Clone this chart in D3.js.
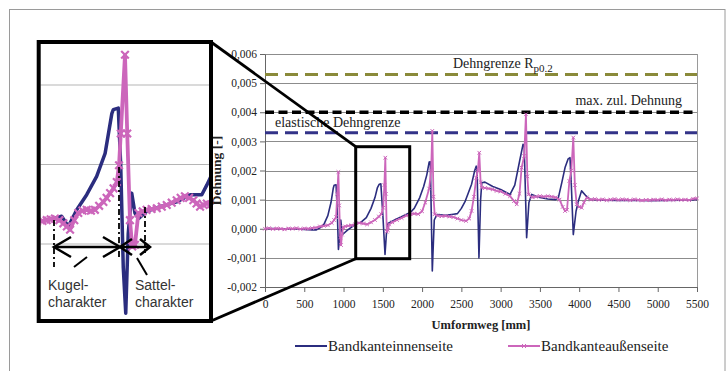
<!DOCTYPE html>
<html lang="de">
<head>
<meta charset="utf-8">
<title>Dehnung ueber Umformweg</title>
<script src="https://d3js.org/d3.v7.min.js"></script>
<style>
  body { margin: 0; background: #fff; }
  .serif { font-family: "Liberation Serif", "Times New Roman", serif; }
  .sans { font-family: "Liberation Sans", Arial, sans-serif; }
</style>
</head>
<body>
<script>
// Bandkanteinnenseite  [Umformweg mm, Dehnung]
var innen = [
  [0, 0.00000], [100, 0.00001], [200, -0.00001], [300, 0.00000], [400, -0.00001],
  [500, -0.00002], [600, -0.00004], [650, -0.00004], [700, 0.00003], [750, 0.00015],
  [800, 0.00045], [840, 0.00090], [870, 0.00140], [880, 0.00149], [905, 0.00151],
  [920, 0.00060], [935, -0.00071], [950, -0.00030], [965, 0.00030], [980, -0.00010],
  [995, -0.00018], [1050, -0.00005], [1120, 0.00009], [1170, 0.00018], [1220, 0.00022],
  [1290, 0.00038], [1350, 0.00070], [1400, 0.00107], [1430, 0.00140], [1455, 0.00153],
  [1475, 0.00154], [1500, 0.00050], [1528, -0.00088], [1545, -0.00020], [1565, 0.00018],
  [1650, 0.00030], [1750, 0.00043], [1850, 0.00056], [1900, 0.00070], [1970, 0.00107],
  [2020, 0.00145], [2060, 0.00185], [2090, 0.00229], [2105, 0.00230], [2130, -0.00145],
  [2155, 0.00030], [2190, 0.00049], [2300, 0.00046], [2400, 0.00050], [2450, 0.00052],
  [2500, 0.00070], [2550, 0.00095], [2630, 0.00153], [2670, 0.00200], [2690, 0.00215],
  [2700, 0.00200], [2724, -0.00100], [2745, 0.00100], [2760, 0.00158], [2800, 0.00160],
  [2900, 0.00145], [3000, 0.00135], [3120, 0.00118], [3180, 0.00150], [3240, 0.00230],
  [3285, 0.00290], [3300, 0.00285], [3331, -0.00031], [3360, 0.00090], [3395, 0.00118],
  [3450, 0.00112], [3500, 0.00107], [3600, 0.00102], [3700, 0.00100], [3735, 0.00107],
  [3780, 0.00160], [3820, 0.00210], [3860, 0.00240], [3883, 0.00244], [3900, 0.00150],
  [3925, -0.00020], [3960, 0.00060], [3990, 0.00095], [4030, 0.00130], [4080, 0.00115],
  [4140, 0.00101], [4300, 0.00098], [4500, 0.00097], [4700, 0.00098], [4900, 0.00096],
  [5100, 0.00097], [5300, 0.00098], [5500, 0.00100]
];

// Bandkanteaussenseite
var aussen = [
  [0, 0.00000], [50, 0.00002], [100, -0.00001], [150, 0.00001], [200, 0.00000],
  [250, -0.00002], [300, 0.00001], [350, 0.00000], [400, 0.00002], [450, -0.00001],
  [500, 0.00001], [550, 0.00000], [600, 0.00002], [650, 0.00004], [700, 0.00008],
  [750, 0.00010], [800, 0.00012], [850, 0.00020], [880, 0.00030], [905, 0.00040],
  [920, 0.00120], [934, 0.00195], [945, 0.00080], [958, -0.00030], [968, -0.00056],
  [980, -0.00020], [995, 0.00005], [1020, 0.00008], [1060, 0.00010], [1100, 0.00012],
  [1150, 0.00015], [1200, 0.00020], [1250, 0.00018], [1300, 0.00015], [1350, 0.00022],
  [1400, 0.00030], [1450, 0.00042], [1480, 0.00050], [1505, 0.00072], [1520, 0.00150],
  [1532, 0.00244], [1540, 0.00120], [1550, -0.00010], [1565, -0.00005], [1580, 0.00015],
  [1620, 0.00022], [1680, 0.00030], [1740, 0.00037], [1800, 0.00045], [1850, 0.00050],
  [1900, 0.00052], [1950, 0.00050], [2000, 0.00060], [2040, 0.00090], [2090, 0.00138],
  [2115, 0.00200], [2130, 0.00336], [2145, 0.00110], [2160, 0.00050], [2200, 0.00045],
  [2250, 0.00043], [2300, 0.00044], [2350, 0.00042], [2400, 0.00040], [2450, 0.00035],
  [2500, 0.00030], [2560, 0.00027], [2600, 0.00035], [2630, 0.00061], [2660, 0.00110],
  [2690, 0.00175], [2710, 0.00200], [2728, 0.00261], [2745, 0.00160], [2760, 0.00141],
  [2800, 0.00140], [2850, 0.00138], [2900, 0.00135], [2950, 0.00130], [3000, 0.00128],
  [3060, 0.00120], [3120, 0.00112], [3170, 0.00095], [3205, 0.00084], [3240, 0.00120],
  [3267, 0.00210], [3300, 0.00250], [3322, 0.00393], [3340, 0.00180], [3355, 0.00118],
  [3400, 0.00108], [3450, 0.00110], [3500, 0.00112], [3550, 0.00110], [3600, 0.00112],
  [3650, 0.00110], [3700, 0.00108], [3750, 0.00100], [3790, 0.00075], [3820, 0.00061],
  [3845, 0.00065], [3875, 0.00164], [3900, 0.00200], [3925, 0.00313], [3945, 0.00150],
  [3968, 0.00084], [4000, 0.00075], [4031, 0.00072], [4060, 0.00090], [4095, 0.00107],
  [4150, 0.00100], [4200, 0.00102], [4250, 0.00099], [4300, 0.00101], [4350, 0.00098],
  [4400, 0.00100], [4450, 0.00102], [4500, 0.00099], [4550, 0.00101], [4600, 0.00100],
  [4650, 0.00098], [4700, 0.00101], [4750, 0.00099], [4800, 0.00097], [4850, 0.00099],
  [4900, 0.00098], [4950, 0.00100], [5000, 0.00099], [5050, 0.00101], [5100, 0.00098],
  [5150, 0.00100], [5200, 0.00099], [5250, 0.00101], [5300, 0.00099], [5350, 0.00100],
  [5400, 0.00098], [5450, 0.00103], [5500, 0.00104]
];

// Lupe (Ausschnitt 1150..1850 mm)
var lupeInnen = [
  [1150, 0.00028], [1216, 0.00032], [1249, 0.00035], [1276, 0.00022], [1310, 0.00043],
  [1350, 0.00062], [1390, 0.00085], [1424, 0.00114], [1451, 0.00164], [1457, 0.00169],
  [1477, 0.00171], [1487, 0.00097], [1497, -0.00029], [1507, -0.00087], [1517, 0.00013],
  [1531, 0.00064], [1544, 0.00039], [1558, 0.00032], [1591, 0.00041], [1645, 0.00047],
  [1712, 0.00053], [1766, 0.00062], [1813, 0.00062], [1833, 0.00074], [1850, 0.00085]
];
var lupeAussen = [
  [1150, 0.00028], [1172, 0.00029], [1189, 0.00030], [1205, 0.00031], [1222, 0.00032],
  [1240, 0.00030], [1256, 0.00026], [1270, 0.00022], [1283, 0.00018], [1300, 0.00030],
  [1316, 0.00039], [1333, 0.00042], [1350, 0.00043], [1367, 0.00042], [1383, 0.00043],
  [1400, 0.00048], [1417, 0.00053], [1430, 0.00058], [1444, 0.00064], [1458, 0.00070],
  [1471, 0.00078], [1480, 0.00099], [1487, 0.00139], [1504, 0.00238], [1513, 0.00139],
  [1524, 0.00030], [1533, -0.00003], [1544, -0.00001], [1558, 0.00039], [1575, 0.00041],
  [1591, 0.00043], [1611, 0.00044], [1632, 0.00045], [1652, 0.00047], [1672, 0.00049],
  [1692, 0.00052], [1712, 0.00055], [1728, 0.00058], [1745, 0.00060], [1762, 0.00058],
  [1779, 0.00055], [1792, 0.00051], [1806, 0.00047], [1820, 0.00049], [1833, 0.00051],
  [1850, 0.00050]
];

var grenzen = [0.0053, 0.004, 0.0033];
var yTicks = [-0.002, -0.001, 0, 0.001, 0.002, 0.003, 0.004, 0.005, 0.006];
var xTicks = [0, 500, 1000, 1500, 2000, 2500, 3000, 3500, 4000, 4500, 5000, 5500];
var lupeTicks = [0, 0.001, 0.002];
var legende = ["Bandkanteinnenseite", "Bandkanteaußenseite"];

var blau = "#2b2d7f";
var rosa = "#cc66bb";
var serif = "'Liberation Serif', 'Times New Roman', serif";

var svg = d3.select("body").append("svg")
  .attr("width", 728)
  .attr("height", 371);

// aeusserer Rahmen
svg.append("rect")
  .attr("x", 9.5).attr("y", 9.5)
  .attr("width", 715.5).attr("height", 420)
  .attr("fill", "none").attr("stroke", "#9a9a9a");

var x = d3.scaleLinear().domain([0, 5500]).range([265, 697]);
var y = d3.scaleLinear().domain([-0.002, 0.006]).range([287, 54]);

function fmt(v) {
  return (v < -1e-9 ? "-" : "") + Math.abs(v).toFixed(3).replace(".", ",");
}

// Gitterlinien
svg.append("g").selectAll("line")
  .data(yTicks.slice(1))
  .enter().append("line")
  .attr("x1", 265).attr("x2", 697)
  .attr("y1", d => Math.round(y(d)) + 0.5)
  .attr("y2", d => Math.round(y(d)) + 0.5)
  .attr("stroke", "#8c8c8c");

svg.append("line")
  .attr("x1", 697.5).attr("x2", 697.5)
  .attr("y1", y(0.006)).attr("y2", y(-0.002))
  .attr("stroke", "#9a9a9a");

// Achsen
var yAxis = svg.append("g")
  .attr("transform", "translate(265,0)")
  .call(d3.axisLeft(y).tickValues(yTicks).tickSize(5).tickSizeOuter(0).tickPadding(3).tickFormat(fmt));

var xAxis = svg.append("g")
  .attr("transform", "translate(0," + y(-0.002) + ")")
  .call(d3.axisBottom(x).tickValues(xTicks).tickSize(5).tickSizeOuter(0).tickPadding(8).tickFormat(d3.format("d")));

[yAxis, xAxis].forEach(function (a) {
  a.attr("font-family", null).attr("font-size", null);
  a.select(".domain").attr("stroke", "#666");
  a.selectAll(".tick line").attr("stroke", "#666");
  a.selectAll("text")
    .style("font-family", serif)
    .style("font-size", "11.5px")
    .attr("fill", "#222");
});

// Grenzlinien
var grenzStil = [
  { farbe: "#8a8a3a", dash: "13,7", breite: 3 },
  { farbe: "#000000", dash: "9,4.5", breite: 3.5 },
  { farbe: "#333388", dash: "13,7", breite: 3 }
];
svg.append("g").selectAll("line")
  .data(grenzen)
  .enter().append("line")
  .attr("x1", 265).attr("x2", 697)
  .attr("y1", d => y(d)).attr("y2", d => y(d))
  .attr("stroke", (d, i) => grenzStil[i].farbe)
  .attr("stroke-width", (d, i) => grenzStil[i].breite)
  .attr("stroke-dasharray", (d, i) => grenzStil[i].dash);

var t1 = svg.append("text")
  .attr("class", "serif")
  .attr("x", 453).attr("y", 68)
  .style("font-size", "14px").attr("fill", "#222")
  .text("Dehngrenze R");
t1.append("tspan")
  .attr("dy", 4)
  .style("font-size", "11px")
  .text("p0.2");

svg.append("text")
  .attr("class", "serif")
  .attr("x", 682).attr("y", 105)
  .attr("text-anchor", "end")
  .style("font-size", "14px").attr("fill", "#222")
  .text("max. zul. Dehnung");

svg.append("text")
  .attr("class", "serif")
  .attr("x", 275).attr("y", 127)
  .style("font-size", "14px").attr("fill", "#222")
  .text("elastische Dehngrenze");

// Messkurven
var linie = d3.line().x(d => x(d[0])).y(d => y(d[1]));

svg.append("path")
  .datum(innen)
  .attr("d", linie)
  .attr("fill", "none")
  .attr("stroke", blau)
  .attr("stroke-width", 1.6)
  .attr("stroke-linejoin", "round");

svg.append("path")
  .datum(aussen)
  .attr("d", linie)
  .attr("fill", "none")
  .attr("stroke", rosa)
  .attr("stroke-width", 1.8)
  .attr("stroke-linejoin", "round");

function kreuz(s) {
  return "M" + (-s) + "," + (-s) + "L" + s + "," + s + "M" + (-s) + "," + s + "L" + s + "," + (-s);
}

svg.append("g").selectAll("path")
  .data(aussen)
  .enter().append("path")
  .attr("transform", d => "translate(" + x(d[0]) + "," + y(d[1]) + ")")
  .attr("d", kreuz(1.8))
  .attr("stroke", rosa)
  .attr("stroke-width", 1)
  .attr("fill", "none");

// Achsentitel
svg.append("text")
  .attr("class", "serif")
  .attr("transform", "translate(220.5,170.5) rotate(-90)")
  .attr("text-anchor", "middle")
  .style("font-size", "13.5px").style("font-weight", "bold")
  .attr("fill", "#222")
  .text("Dehnung [-]");

svg.append("text")
  .attr("class", "serif")
  .attr("x", 481).attr("y", 329)
  .attr("text-anchor", "middle")
  .style("font-size", "12.5px").style("font-weight", "bold")
  .attr("fill", "#222")
  .text("Umformweg [mm]");

// Legende
var leg = svg.append("g");
leg.append("line")
  .attr("x1", 295).attr("x2", 327).attr("y1", 346).attr("y2", 346)
  .attr("stroke", blau).attr("stroke-width", 2);
leg.append("text")
  .attr("class", "serif")
  .attr("x", 328).attr("y", 351)
  .style("font-size", "15px").attr("fill", "#222")
  .text(legende[0]);
leg.append("line")
  .attr("x1", 508).attr("x2", 540).attr("y1", 346).attr("y2", 346)
  .attr("stroke", rosa).attr("stroke-width", 2);
leg.append("path")
  .attr("transform", "translate(524,346)")
  .attr("d", kreuz(2))
  .attr("stroke", rosa).attr("fill", "none");
leg.append("text")
  .attr("class", "serif")
  .attr("x", 541).attr("y", 351)
  .style("font-size", "15px").attr("fill", "#222")
  .text(legende[1]);

// Ausschnitt-Markierung und Verbindungslinien
svg.append("rect")
  .attr("x", 355.7).attr("y", 146.7)
  .attr("width", 54).attr("height", 112)
  .attr("fill", "none").attr("stroke", "#000").attr("stroke-width", 3);

svg.append("line")
  .attr("x1", 211).attr("y1", 42).attr("x2", 355.7).attr("y2", 146.7)
  .attr("stroke", "#000").attr("stroke-width", 2.8);
svg.append("line")
  .attr("x1", 211).attr("y1", 321).attr("x2", 355.7).attr("y2", 258.7)
  .attr("stroke", "#000").attr("stroke-width", 2.8);

// Lupe
var lx = d3.scaleLinear().domain([1150, 1850]).range([37, 211]);
var ly = d3.scaleLinear().domain([-0.001, 0.003]).range([323.5, 5.5]);

var lupe = svg.append("g");
lupe.append("rect")
  .attr("x", 38.7).attr("y", 42)
  .attr("width", 172.3).attr("height", 279)
  .attr("fill", "#fff");

lupe.append("clipPath").attr("id", "lupeClip")
  .append("rect")
  .attr("x", 40.5).attr("y", 44)
  .attr("width", 168.5).attr("height", 275);

var lupeInhalt = lupe.append("g").attr("clip-path", "url(#lupeClip)");

lupeInhalt.selectAll("line")
  .data(lupeTicks)
  .enter().append("line")
  .attr("x1", 40).attr("x2", 210)
  .attr("y1", d => ly(d)).attr("y2", d => ly(d))
  .attr("stroke", "#b5b5b5");

var lupeLinie = d3.line().x(d => lx(d[0])).y(d => ly(d[1]));

lupeInhalt.append("path")
  .datum(lupeInnen)
  .attr("d", lupeLinie)
  .attr("fill", "none")
  .attr("stroke", blau)
  .attr("stroke-width", 3.5)
  .attr("stroke-linejoin", "round");

lupeInhalt.append("path")
  .datum(lupeAussen)
  .attr("d", lupeLinie)
  .attr("fill", "none")
  .attr("stroke", rosa)
  .attr("stroke-width", 3.8)
  .attr("stroke-linejoin", "round");

lupeInhalt.append("g").selectAll("path")
  .data(lupeAussen)
  .enter().append("path")
  .attr("transform", d => "translate(" + lx(d[0]) + "," + ly(d[1]) + ")")
  .attr("d", kreuz(3.8))
  .attr("stroke", rosa)
  .attr("stroke-width", 2.2)
  .attr("fill", "none");

// Markierungen in der Lupe
var anno = lupe.append("g").attr("stroke", "#000").attr("fill", "none");
[[54, 220, 267], [119, 167, 258], [145, 207, 253]].forEach(function (v) {
  anno.append("line")
    .attr("x1", v[0]).attr("x2", v[0]).attr("y1", v[1]).attr("y2", v[2])
    .attr("stroke-width", 1.8)
    .attr("stroke-dasharray", "6,3,2,3");
});

anno.append("line")
  .attr("x1", 54).attr("x2", 150).attr("y1", 247).attr("y2", 247)
  .attr("stroke-width", 2.5);
anno.append("path")
  .attr("d", "M71,237L54,247L71,257 M103,237L120,247L103,257 M132,239L120,247L132,255 M140,239L150,247L140,255")
  .attr("stroke-width", 2.5);
anno.append("line")
  .attr("x1", 74).attr("y1", 267).attr("x2", 87).attr("y2", 257)
  .attr("stroke-width", 2);
anno.append("line")
  .attr("x1", 137).attr("y1", 258).attr("x2", 147).attr("y2", 275)
  .attr("stroke-width", 2);

var lupeText = [
  ["Kugel-", 48, 290], ["charakter", 48, 307],
  ["Sattel-", 135, 290], ["charakter", 135, 307]
];
lupe.selectAll("text.anno")
  .data(lupeText)
  .enter().append("text")
  .attr("class", "sans")
  .attr("x", d => d[1]).attr("y", d => d[2])
  .style("font-size", "14px")
  .attr("fill", "#333")
  .text(d => d[0]);

lupe.append("rect")
  .attr("x", 38.7).attr("y", 42)
  .attr("width", 172.3).attr("height", 279)
  .attr("fill", "none").attr("stroke", "#000").attr("stroke-width", 4);
</script>
</body>
</html>
